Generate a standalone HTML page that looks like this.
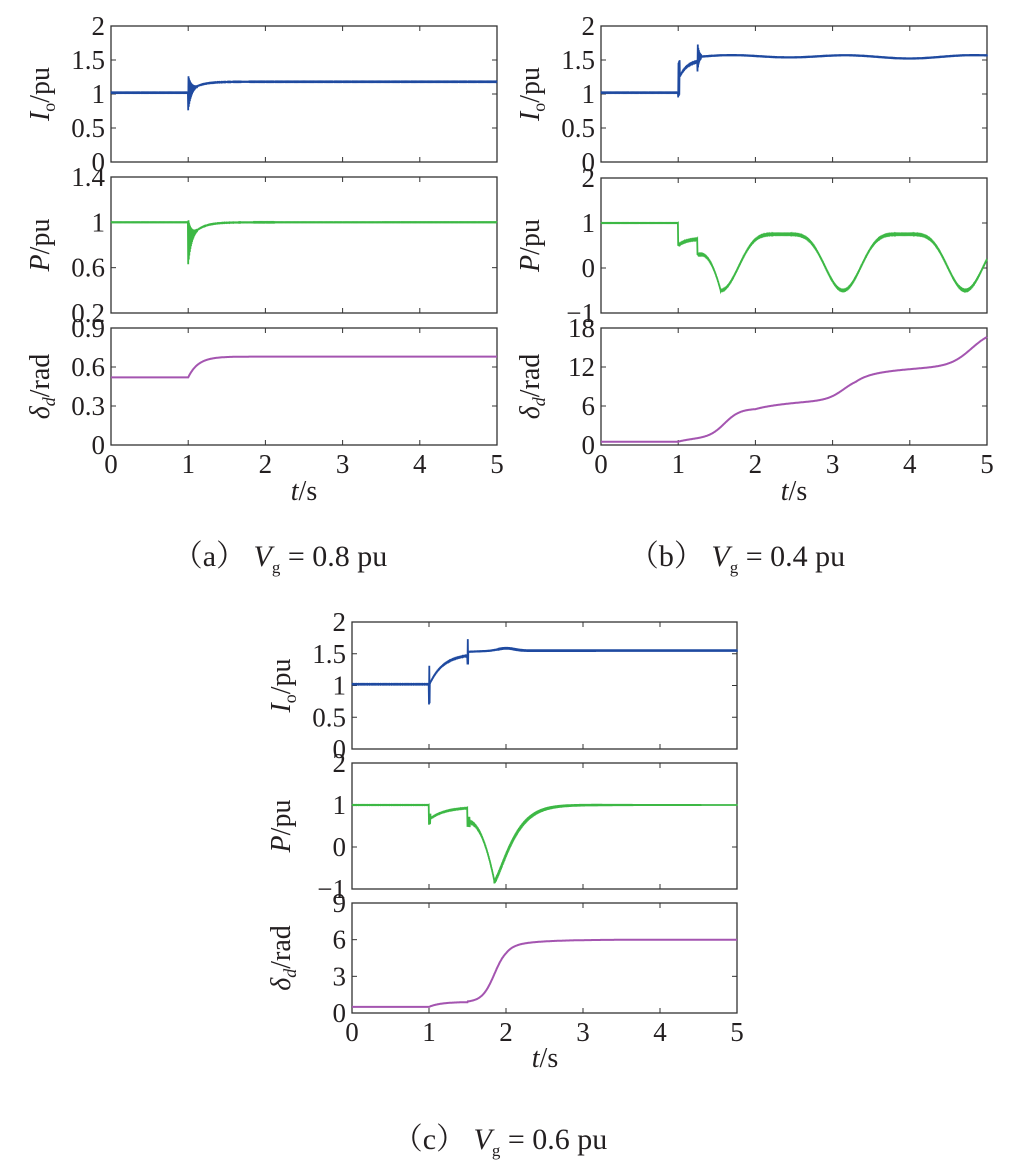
<!DOCTYPE html>
<html><head><meta charset="utf-8"><style>
body{margin:0;background:#fff}
svg{display:block}
text{font-family:"Liberation Serif","Noto Serif CJK SC",serif;fill:#231f20}
</style></head><body>
<svg id="s" width="1010" height="1162" xmlns="http://www.w3.org/2000/svg">
<text x="280" y="566" font-size="30" text-anchor="middle">（a） <tspan font-style="italic">V</tspan><tspan font-size="17" dy="7">g</tspan><tspan dy="-7"> = 0.8 pu</tspan></text>
<text x="737" y="566" font-size="30" text-anchor="middle">（b） <tspan font-style="italic">V</tspan><tspan font-size="17" dy="7">g</tspan><tspan dy="-7"> = 0.4 pu</tspan></text>
<text x="500" y="1149" font-size="30" text-anchor="middle">（c） <tspan font-style="italic">V</tspan><tspan font-size="17" dy="7">g</tspan><tspan dy="-7"> = 0.6 pu</tspan></text>
</svg>
<script>
const S=document.getElementById('s');const NS='http://www.w3.org/2000/svg';
function el(t,a,txt){const e=document.createElementNS(NS,t);for(const k in a)e.setAttribute(k,a[k]);if(txt!=null)e.textContent=txt;S.appendChild(e);return e;}
function ex(t,t0,tau){return t<t0?0:1-Math.exp(-(t-t0)/tau);}
function sig(t,c,w){return 1/(1+Math.exp(-(t-c)/w));}
const FS=27;
function axes(x0,y0,x1,y1,ymin,ymax,ticks,labels,ylab,showX){
 el('rect',{x:x0,y:y0,width:x1-x0,height:y1-y0,fill:'none',stroke:'#333','stroke-width':1.3});
 for(let i=0;i<=5;i++){const x=x0+(x1-x0)*i/5;
  el('line',{x1:x,y1:y1,x2:x,y2:y1-5,stroke:'#333'});el('line',{x1:x,y1:y0,x2:x,y2:y0+5,stroke:'#333'});
  if(showX)el('text',{x:x,y:y1+28,'font-size':FS,'text-anchor':'middle'},i);}
 ticks.forEach((v,i)=>{const y=y1-(v-ymin)/(ymax-ymin)*(y1-y0);
  el('line',{x1:x0,y1:y,x2:x0+5,y2:y,stroke:'#333'});el('line',{x1:x1,y1:y,x2:x1-5,y2:y,stroke:'#333'});
  el('text',{x:x0-6,y:y+9,'font-size':FS,'text-anchor':'end'},labels[i]);});
 const g=el('text',{transform:`translate(${x0-62},${(y0+y1)/2}) rotate(-90)`,'font-size':28,'text-anchor':'middle'});
 g.innerHTML=ylab;
}
function plot(x0,y0,x1,y1,ymin,ymax,f,nz,col,w){
 let d='';const N=1400;
 for(let i=0;i<=N;i++){const t=5*i/N;let v=f(t);const a=nz?nz(t):0;v+=(i%2?a:-a);
  let y=y1-(v-ymin)/(ymax-ymin)*(y1-y0);y=Math.max(y0,Math.min(y1,y));
  d+=(i?'L':'M')+(x0+(x1-x0)*t/5).toFixed(1)+' '+y.toFixed(1);}
 el('path',{d:d,fill:'none',stroke:col,'stroke-width':w||1.8});
}
const B='#1f4aa0',G='#3db845',M='#a455b0';
const IL='<tspan font-style="italic">I</tspan><tspan font-size="18" dy="6">o</tspan><tspan dy="-6">/pu</tspan>';
const PL='<tspan font-style="italic">P</tspan>/pu';
const DL='<tspan font-style="italic">δ</tspan><tspan font-size="18" dy="6" font-style="italic">d</tspan><tspan dy="-6">/rad</tspan>';
// panel a
let X0=111,X1=497;
axes(X0,26,X1,162,0,2,[0,.5,1,1.5,2],['0','0.5','1','1.5','2'],IL,false);
plot(X0,26,X1,162,0,2,t=>t<1?1.02:1.02+0.16*ex(t,1,0.13),t=>t<1?0.002:(t<1.12?0.26*Math.exp(-(t-1)/0.04):0.002),B);
axes(X0,177,X1,313,0.2,1.4,[.2,.6,1,1.4],['0.2','0.6','1','1.4'],PL,false);
plot(X0,177,X1,313,0.2,1.4,t=>t<1?1:1-0.17*Math.exp(-(t-1)/0.13),t=>t<1?0.001:(t<1.12?0.2*Math.exp(-(t-1)/0.04):0.001),G);
axes(X0,328,X1,445,0,0.9,[0,.3,.6,.9],['0','0.3','0.6','0.9'],DL,true);
plot(X0,328,X1,445,0,0.9,t=>0.52+0.16*ex(t,1,0.13),null,M,2);
el('text',{x:304,y:500,'font-size':28,'text-anchor':'middle'}).innerHTML='<tspan font-style="italic">t</tspan>/s';
// panel b
X0=601;X1=987;
axes(X0,26,X1,162,0,2,[0,.5,1,1.5,2],['0','0.5','1','1.5','2'],IL,false);
plot(X0,26,X1,162,0,2,t=>{if(t<1)return 1.02;if(t<1.25)return 1.2+0.3*ex(t,1,0.1);return 1.55+0.02*Math.sin((t-1.25)*4)-0.008*Math.sin(t*2);},
 t=>{if(t<1)return 0.002;if(t<1.02)return 0.25;if(t<1.25)return 0.004;if(t<1.3)return 0.2*Math.exp(-(t-1.25)/0.02)+0.015;return 0.015;},B);
axes(X0,178,X1,313,-1,2,[-1,0,1,2],['−1','0','1','2'],PL,false);
plot(X0,178,X1,313,-1,2,t=>{if(t<1)return 1;if(t<1.25)return 0.5+0.15*ex(t,1,0.1);
 if(t<1.3)return 0.3;const p=1.585;const ph=((t-1.55)/p)%1;let v=0.75-1.25*Math.pow(Math.abs(Math.cos(Math.PI*ph)),5);
 if(t<1.55){const k=(t-1.3)/0.25;return 0.3-0.8*k*k;}return v;},t=>t<1?0.003:0.006,G);
axes(X0,328,X1,445,0,18,[0,6,12,18],['0','6','12','18'],DL,true);
plot(X0,328,X1,445,0,18,t=>{if(t<1)return 0.5;return 0.5+0.6*ex(t,1,0.2)+4.5*sig(t,1.6,0.1)+1.5*ex(t,2,0.6)+3.5*sig(t,3.15,0.11)+1.6*ex(t,3.3,0.6)+5.6*sig(t,4.8,0.14);},null,M,2);
el('text',{x:794,y:500,'font-size':28,'text-anchor':'middle'}).innerHTML='<tspan font-style="italic">t</tspan>/s';
// panel c
X0=352;X1=737;
axes(X0,622,X1,749,0,2,[0,.5,1,1.5,2],['0','0.5','1','1.5','2'],IL,false);
plot(X0,622,X1,749,0,2,t=>{if(t<1)return 1.02;if(t<1.5)return 1.0+0.5*ex(t,1,0.18);return 1.53+0.04*Math.exp(-Math.pow((t-2)/0.15,2))+0.02*ex(t,1.5,.3);},
 t=>{if(t<1)return 0.002;if(t<1.01)return 0.3;if(t<1.5)return 0.003;if(t<1.51)return 0.2;if(t<1.9)return 0.015;return 0.02;},B);
axes(X0,763,X1,889,-1,2,[-1,0,1,2],['−1','0','1','2'],PL,false);
plot(X0,763,X1,889,-1,2,t=>{if(t<1)return 1;if(t<1.5)return 0.65+0.3*ex(t,1,0.2);
 if(t<1.85){const k=(t-1.5)/0.35;return 0.6-1.42*Math.pow(k,2.2);}return 1.0-1.82*Math.exp(-Math.pow(t-1.85,1.3)/0.2);},
 t=>{if(t<1)return 0.002;if(t<1.02)return 0.12;if(t<1.5)return 0.004;if(t<1.53)return 0.12;if(t<1.85)return 0.008;return 0.035*Math.exp(-(t-1.85)/1.5)+0.012;},G);
axes(X0,903,X1,1013,0,9,[0,3,6,9],['0','3','6','9'],DL,true);
plot(X0,903,X1,1013,0,9,t=>t<1?0.5:0.5+0.4*ex(t,1,0.15)+4.6*sig(t,1.85,0.08)*(t>1.5)+0.5*ex(t,2,0.4),null,M,2);
el('text',{x:545,y:1067,'font-size':28,'text-anchor':'middle'}).innerHTML='<tspan font-style="italic">t</tspan>/s';
</script>
</body></html>
